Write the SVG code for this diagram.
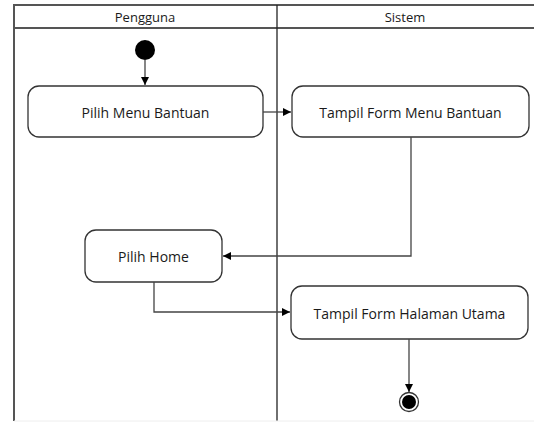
<svg xmlns="http://www.w3.org/2000/svg" width="534" height="425" viewBox="0 0 534 425">
<defs>
<style>
.lane{fill:none;stroke:#555;stroke-width:2}
.node rect{fill:#fff;stroke:#333;stroke-width:1.3}
.node text{font-family:"Open Sans","Liberation Sans",sans-serif;font-size:14px;fill:#1a1a1a;text-anchor:middle;dominant-baseline:central}
.hdr{font-family:"Open Sans","Liberation Sans",sans-serif;font-size:13px;fill:#1a1a1a;text-anchor:middle;dominant-baseline:central}
.conn path{fill:none;stroke:#444;stroke-width:1.3}
</style>
<marker id="ah" viewBox="0 0 10 10" refX="10" refY="5" markerWidth="8" markerHeight="8" markerUnits="userSpaceOnUse" orient="auto">
<path d="M0,0 L10,5 L0,10 z" fill="#000"/>
</marker>
</defs>
<rect width="534" height="425" fill="#fff"/>
<g id="swimlanes">
<line class="lane" x1="14" y1="5" x2="534" y2="5"/>
<line class="lane" x1="14" y1="28" x2="534" y2="28"/>
<line class="lane" x1="14" y1="4" x2="14" y2="421"/>
<line x1="277" y1="5" x2="277" y2="421" stroke="#222" stroke-width="1.3"/>
<line x1="14" y1="421" x2="534" y2="421" stroke="#eee" stroke-width="1"/>
<text class="hdr" x="145" y="17">Pengguna</text>
<text class="hdr" x="405" y="17">Sistem</text>
</g>
<g id="start"><circle cx="145" cy="50" r="10" fill="#000"/></g>
<g id="n1" class="node"><rect x="28" y="86" width="235" height="51" rx="11"/><text x="145.5" y="112">Pilih Menu Bantuan</text></g>
<g id="n2" class="node"><rect x="292" y="86" width="237" height="51" rx="11"/><text x="410.5" y="112">Tampil Form Menu Bantuan</text></g>
<g id="n3" class="node"><rect x="85" y="230" width="137" height="52" rx="11"/><text x="153.5" y="256">Pilih Home</text></g>
<g id="n4" class="node"><rect x="291" y="286" width="237" height="53" rx="11"/><text x="409.5" y="313">Tampil Form Halaman Utama</text></g>
<g id="end"><circle cx="409" cy="402" r="9.5" fill="#fff" stroke="#333" stroke-width="1.3"/><circle cx="409" cy="402" r="7" fill="#000"/></g>
<g id="connectors" class="conn">
<path d="M145,60 L145,85" marker-end="url(#ah)"/>
<path d="M263,112 L291,112" marker-end="url(#ah)"/>
<path d="M411,137 L411,256 L223,256" marker-end="url(#ah)" stroke="#777" stroke-width="2"/>
<path d="M154,282 L154,312 L290,312" marker-end="url(#ah)"/>
<path d="M409,339 L409,392" marker-end="url(#ah)"/>
</g>
</svg>
